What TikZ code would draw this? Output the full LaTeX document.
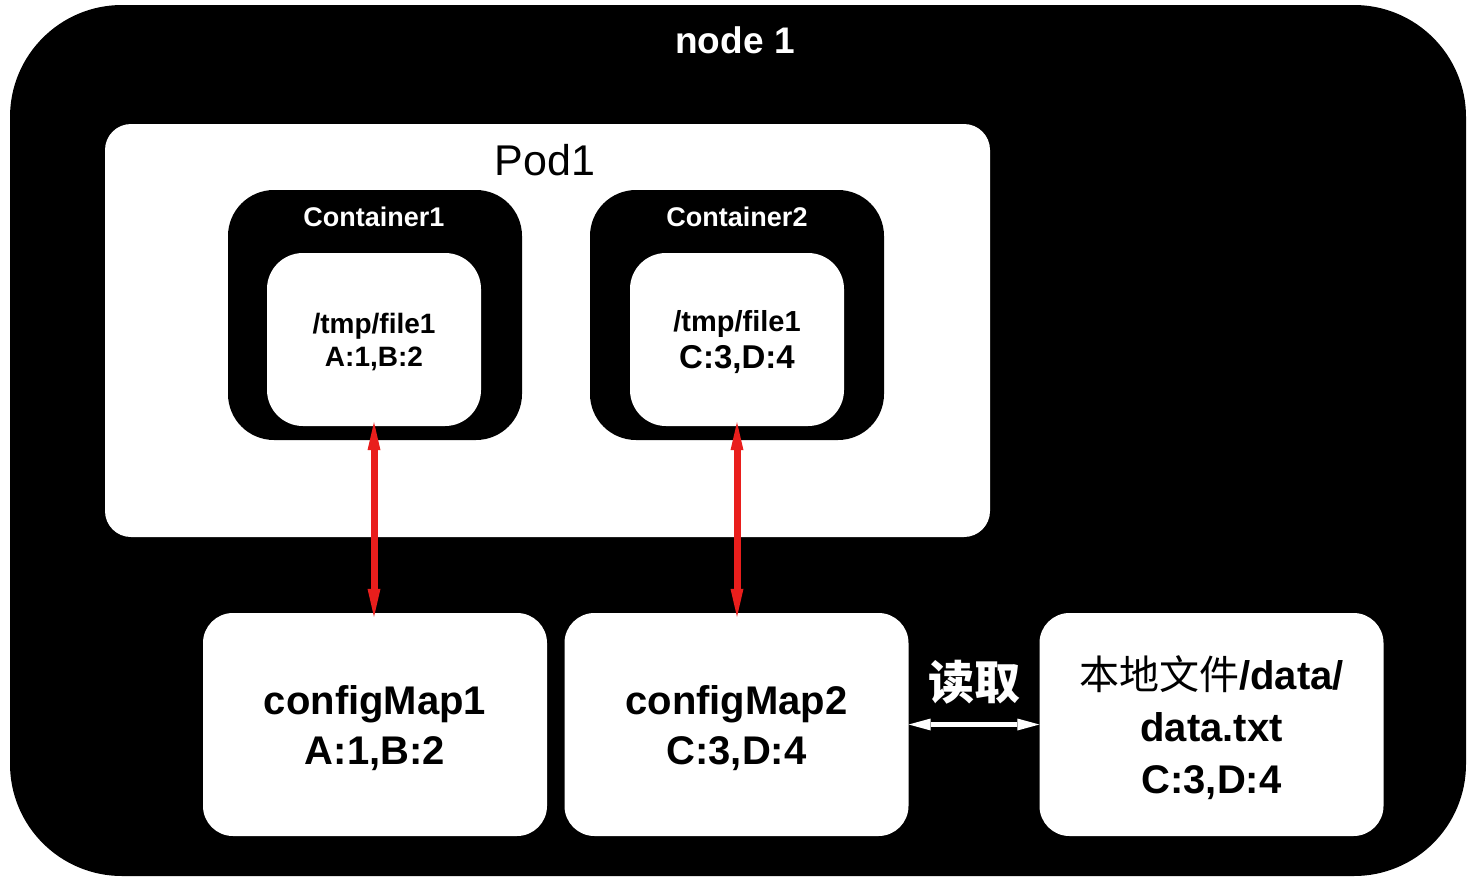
\documentclass[tikz,border=0pt]{standalone}
\usepackage{fontspec}
\setmainfont{Liberation Sans}
\newfontfamily\cjk{Noto Sans CJK SC}
\usetikzlibrary{arrows.meta}
\usetikzlibrary{shapes,positioning}
\definecolor{arrowred}{RGB}{233,30,28}
\tikzset{>=Stealth}
\tikzset{
  outerbox/.style={fill=black, rounded corners=112pt, inner sep=0pt,
    minimum width=1456pt, minimum height=871pt},
  podbox/.style={fill=white, rounded corners=26pt, inner sep=0pt,
    minimum width=885pt, minimum height=413pt},
  ctbox/.style={fill=black, rounded corners=46pt, inner sep=0pt,
    minimum width=294pt, minimum height=250pt},
  filebox/.style={fill=white, rounded corners=36pt, inner sep=0pt, align=center,
    minimum width=214pt, minimum height=173pt},
  mapbox/.style={fill=white, rounded corners=30pt, inner sep=0pt, align=center,
    minimum width=344pt, minimum height=223pt, text depth=-2pt,
    font=\bfseries\fontsize{40}{50}\selectfont},
  redarrow/.style={>={Stealth[length=28pt,width=13pt,inset=0pt,line width=0pt]}, <->,
    draw=arrowred, line width=7pt, shorten <=-4pt, shorten >=-4pt},
  whitearrow/.style={>={Stealth[length=22pt,width=12pt,inset=0pt,line width=0pt]}, <->,
    draw=white, line width=5pt}
}

\begin{document}
\begin{tikzpicture}[x=1pt,y=-1pt]
    \useasboundingbox (0,0) rectangle (1476,884);
    \node[outerbox] (node1) at (738,440.5) {};
    \node[text=white, font=\bfseries\fontsize{37}{44}\selectfont] (node1title) at (735,40) {node 1};

    % pod and its two containers
    \node[podbox] (pod) at (547.5,330.5) {};
    \node[font=\fontsize{43}{50}\selectfont] (podtitle) at (545,160) {Pod1};

    \node[ctbox] (ct1) at (375,315) {};
    \node[text=white, font=\bfseries\fontsize{27}{32}\selectfont] (ct1title) at (374,217) {Container1};
    \node[filebox, text depth=-1pt, font=\bfseries\fontsize{28}{33}\selectfont] (file1) at (374,339.5) {/tmp/file1\\A:1,B:2};

    \node[ctbox] (ct2) at (737,315) {};
    \node[text=white, font=\bfseries\fontsize{27}{32}\selectfont] (ct2title) at (737,217) {Container2};
    \node[filebox, text depth=0pt, font=\bfseries\fontsize{29}{37}\selectfont] (file2) at (737,339.5) {/tmp/file1\\{\fontsize{33}{37}\selectfont C:3,D:4}};

    % config maps and local file
    \node[mapbox] (cm1) at (375,724.5) {configMap1\\A:1,B:2};
    \node[mapbox] (cm2) at (736.5,724.5) {configMap2\\C:3,D:4};
    \node[mapbox, text depth=-6pt, font=\bfseries\fontsize{40}{52}\selectfont] (local) at (1211.5,724.5) {{\cjk\mdseries 本地文件}/data/\\data.txt\\C:3,D:4};

    \draw[redarrow] (file1.south) -- (file1.south |- cm1.north);
    \draw[redarrow] (file2.south) -- (file2.south |- cm2.north);
    \draw[whitearrow] (cm2.east) -- (local.west)
        node[midway, above=14pt, text=white, font=\cjk\bfseries\fontsize{46}{50}\selectfont] (readlbl) {读取};
\end{tikzpicture}
\end{document}
